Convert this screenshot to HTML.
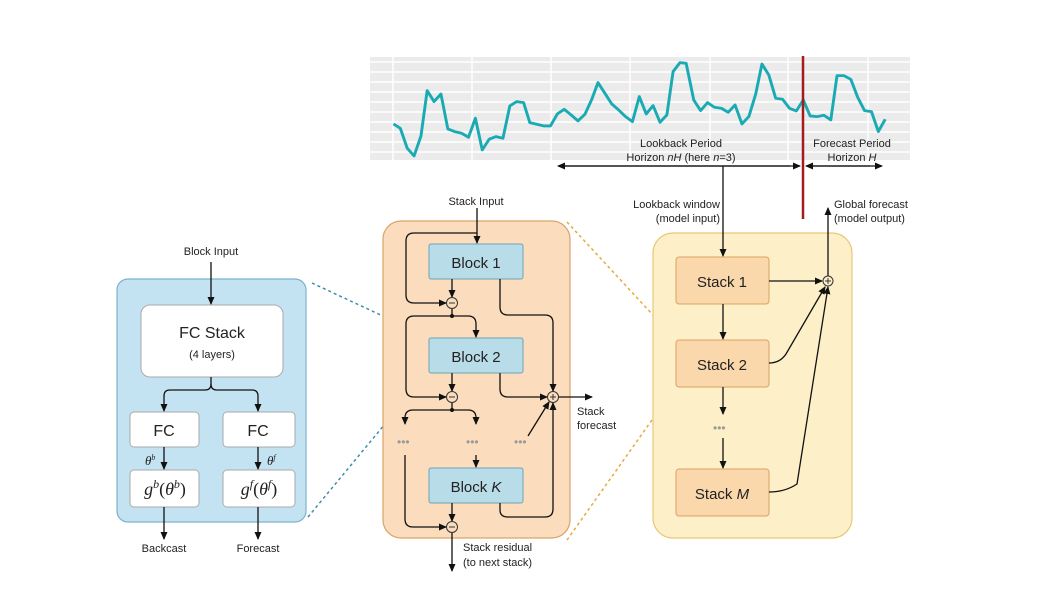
<!DOCTYPE html>
<html><head><meta charset="utf-8"><style>
html,body{margin:0;padding:0;background:#fff}
svg{display:block}
text{font-family:"Liberation Sans",sans-serif;fill:#222}
.s{font-size:11px}
.d{fill:#9a9a9a;font-size:12px}
</style></head><body>
<svg width="1062" height="596" viewBox="0 0 1062 596">
<defs>
<marker id="a" markerWidth="8" markerHeight="8" refX="7" refY="4" orient="auto" markerUnits="userSpaceOnUse"><path d="M0,0.5 L8,4 L0,7.5 Z" fill="#111"/></marker>
</defs>
<rect x="370" y="57" width="540" height="103" fill="#ebebeb"/>
<g stroke="#fff" stroke-width="1.5">
<line x1="370" y1="62" x2="910" y2="62"/><line x1="370" y1="72" x2="910" y2="72"/><line x1="370" y1="82" x2="910" y2="82"/><line x1="370" y1="92" x2="910" y2="92"/><line x1="370" y1="102" x2="910" y2="102"/><line x1="370" y1="112" x2="910" y2="112"/><line x1="370" y1="122" x2="910" y2="122"/><line x1="370" y1="132" x2="910" y2="132"/><line x1="370" y1="142" x2="910" y2="142"/><line x1="370" y1="152" x2="910" y2="152"/>
<line x1="393" y1="57" x2="393" y2="160"/><line x1="472" y1="57" x2="472" y2="160"/><line x1="551" y1="57" x2="551" y2="160"/><line x1="630" y1="57" x2="630" y2="160"/><line x1="710" y1="57" x2="710" y2="160"/><line x1="788" y1="57" x2="788" y2="160"/><line x1="868" y1="57" x2="868" y2="160"/>
</g>
<g transform="translate(370,50) scale(0.3444,0.333)">
<polyline fill="none" stroke="#1aaab4" stroke-width="8.5" stroke-linejoin="round" points="68,222 88,235 108,295 128,318 148,258 166,122 186,155 206,132 226,237 246,245 266,250 286,262 306,205 326,300 346,268 366,260 386,265 406,168 426,155 446,158 464,218 484,223 504,228 524,228 544,192 564,178 584,195 604,213 624,193 644,148 662,98 682,130 702,162 722,180 742,200 762,215 782,140 802,192 822,167 842,217 862,195 880,65 900,38 918,40 940,150 960,182 980,158 1000,172 1020,175 1040,187 1060,165 1080,222 1100,200 1120,132 1138,42 1158,75 1178,145 1198,148 1218,175 1238,183 1258,150 1278,198 1298,200 1318,196 1338,210 1356,77 1376,77 1396,88 1416,142 1436,182 1456,185 1476,245 1496,208"/>
</g>
<text class="s" x="681" y="147" text-anchor="middle">Lookback Period</text>
<text class="s" x="681" y="161" text-anchor="middle">Horizon <tspan font-style="italic">nH</tspan> (here <tspan font-style="italic">n</tspan>=3)</text>
<text class="s" x="852" y="147" text-anchor="middle">Forecast Period</text>
<text class="s" x="852" y="161" text-anchor="middle">Horizon <tspan font-style="italic">H</tspan></text>
<g stroke="#111" stroke-width="1.3" fill="none">
<line x1="565" y1="166" x2="800" y2="166" marker-end="url(#a)"/>
<line x1="790" y1="166" x2="558" y2="166" marker-end="url(#a)"/>
<line x1="810" y1="166" x2="882" y2="166" marker-end="url(#a)"/>
<line x1="870" y1="166" x2="806" y2="166" marker-end="url(#a)"/>
</g>
<line x1="803" y1="56" x2="803" y2="219" stroke="#a51c1c" stroke-width="2.5"/>

<g stroke-dasharray="3,3" stroke-width="1.5" fill="none">
<line x1="312" y1="283" x2="430" y2="338" stroke="#3d8fa8"/>
<line x1="308" y1="517" x2="428" y2="372" stroke="#3d8fa8"/>
<line x1="567" y1="222" x2="676" y2="340" stroke="#e7a93a"/>
<line x1="567" y1="540" x2="676" y2="386" stroke="#e7a93a"/>
</g>

<rect x="117" y="279" width="189" height="243" rx="11" fill="#c4e3f2" stroke="#7ab3cc" stroke-width="1.2"/>
<rect x="141" y="305" width="142" height="72" rx="9" fill="#fff" stroke="#aaa"/>
<text x="212" y="338" text-anchor="middle" style="font-size:16px">FC Stack</text>
<text x="212" y="358" text-anchor="middle" style="font-size:11px">(4 layers)</text>
<rect x="130" y="412" width="69" height="35" rx="4" fill="#fff" stroke="#aaa"/>
<rect x="223" y="412" width="72" height="35" rx="4" fill="#fff" stroke="#aaa"/>
<text x="164" y="436" text-anchor="middle" style="font-size:16px">FC</text>
<text x="258" y="436" text-anchor="middle" style="font-size:16px">FC</text>
<rect x="130" y="470" width="69" height="37" rx="4" fill="#fff" stroke="#aaa"/>
<rect x="223" y="470" width="72" height="37" rx="4" fill="#fff" stroke="#aaa"/>
<text x="165" y="495" text-anchor="middle" style="font-family:'Liberation Serif',serif;font-size:18px"><tspan font-style="italic">g</tspan><tspan font-style="italic" font-size="12" dy="-7">b</tspan><tspan dy="7">(</tspan><tspan font-style="italic">θ</tspan><tspan font-style="italic" font-size="12" dy="-7">b</tspan><tspan dy="7">)</tspan></text>
<text x="259" y="495" text-anchor="middle" style="font-family:'Liberation Serif',serif;font-size:18px"><tspan font-style="italic">g</tspan><tspan font-style="italic" font-size="12" dy="-7">f</tspan><tspan dy="7">(</tspan><tspan font-style="italic">θ</tspan><tspan font-style="italic" font-size="12" dy="-7">f</tspan><tspan dy="7">)</tspan></text>
<text x="145" y="465" style="font-family:'Liberation Serif',serif;font-size:13px;font-style:italic">θ<tspan font-size="8" dy="-5">b</tspan></text>
<text x="267" y="465" style="font-family:'Liberation Serif',serif;font-size:13px;font-style:italic">θ<tspan font-size="8" dy="-5">f</tspan></text>
<text class="s" x="211" y="255" text-anchor="middle">Block Input</text>
<text class="s" x="164" y="552" text-anchor="middle">Backcast</text>
<text class="s" x="258" y="552" text-anchor="middle">Forecast</text>
<g stroke="#111" stroke-width="1.3" fill="none">
<line x1="211" y1="262" x2="211" y2="304" marker-end="url(#a)"/>
<path d="M211,377 V384 Q211,390 205,390 H170 Q164,390 164,396 V411" marker-end="url(#a)"/>
<path d="M211,384 Q211,390 217,390 H252 Q258,390 258,396 V411" marker-end="url(#a)"/>
<line x1="164" y1="447" x2="164" y2="469" marker-end="url(#a)"/>
<line x1="258" y1="447" x2="258" y2="469" marker-end="url(#a)"/>
<line x1="164" y1="507" x2="164" y2="539" marker-end="url(#a)"/>
<line x1="258" y1="507" x2="258" y2="539" marker-end="url(#a)"/>
</g>

<rect x="383" y="221" width="187" height="317" rx="18" fill="#fbdcbd" stroke="#d9a46a" stroke-width="1.2"/>
<rect x="429" y="244" width="94" height="35" rx="2" fill="#b8dce8" stroke="#6ea3b8"/>
<rect x="429" y="338" width="94" height="35" rx="2" fill="#b8dce8" stroke="#6ea3b8"/>
<rect x="429" y="468" width="94" height="35" rx="2" fill="#b8dce8" stroke="#6ea3b8"/>
<text x="476" y="268" text-anchor="middle" style="font-size:15px">Block 1</text>
<text x="476" y="362" text-anchor="middle" style="font-size:15px">Block 2</text>
<text x="476" y="492" text-anchor="middle" style="font-size:15px">Block <tspan font-style="italic">K</tspan></text>
<text class="s" x="476" y="205" text-anchor="middle">Stack Input</text>
<text class="s" x="577" y="415">Stack</text>
<text class="s" x="577" y="429">forecast</text>
<text class="s" x="463" y="551">Stack residual</text>
<text class="s" x="463" y="566">(to next stack)</text>
<text class="d" x="397" y="446">•••</text><text class="d" x="466" y="446">•••</text><text class="d" x="514" y="446">•••</text>
<g stroke="#111" stroke-width="1.3" fill="none">
<line x1="477" y1="208" x2="477" y2="243" marker-end="url(#a)"/>
<path d="M477,233 H414 Q406,233 406,241 V295 Q406,303 414,303 H446" marker-end="url(#a)"/>
<line x1="452" y1="279" x2="452" y2="297" marker-end="url(#a)"/>
<path d="M500,279 V307 Q500,315 508,315 H545 Q553,315 553,323 V391" marker-end="url(#a)"/>
<path d="M452,308 V316 H468 Q476,316 476,324 V337" marker-end="url(#a)"/>
<path d="M452,316 H414 Q406,316 406,324 V389 Q406,397 414,397 H446" marker-end="url(#a)"/>
<line x1="452" y1="373" x2="452" y2="391" marker-end="url(#a)"/>
<path d="M500,373 V389 Q500,397 508,397 H547" marker-end="url(#a)"/>
<line x1="558" y1="397" x2="592" y2="397" marker-end="url(#a)"/>
<path d="M452,402 V410 H468 Q476,410 476,418 V424" marker-end="url(#a)"/>
<path d="M452,410 H413 Q405,410 405,418 V424" marker-end="url(#a)"/>
<line x1="476" y1="455" x2="476" y2="467" marker-end="url(#a)"/>
<path d="M405,455 V519 Q405,527 413,527 H446" marker-end="url(#a)"/>
<line x1="452" y1="503" x2="452" y2="521" marker-end="url(#a)"/>
<path d="M500,503 V510 Q500,517 508,517 H545 Q553,517 553,509 V403" marker-end="url(#a)"/>
<line x1="528" y1="436" x2="549" y2="402" marker-end="url(#a)"/>
<line x1="452" y1="532" x2="452" y2="571" marker-end="url(#a)"/>
</g>
<g fill="#fbdcbd" stroke="#333" stroke-width="1">
<circle cx="452" cy="303" r="5.5"/><circle cx="452" cy="397" r="5.5"/><circle cx="452" cy="527" r="5.5"/><circle cx="553" cy="397" r="5.5"/>
</g>
<g stroke="#333" stroke-width="1"><line x1="449" y1="303" x2="455" y2="303"/><line x1="449" y1="397" x2="455" y2="397"/><line x1="449" y1="527" x2="455" y2="527"/><line x1="550" y1="397" x2="556" y2="397"/><line x1="553" y1="394" x2="553" y2="400"/></g>
<g fill="#111"><circle cx="452" cy="316" r="2"/><circle cx="452" cy="410" r="2"/></g>

<rect x="653" y="233" width="199" height="305" rx="20" fill="#fdf0c9" stroke="#e8c877" stroke-width="1.2"/>
<rect x="676" y="257" width="93" height="47" rx="3" fill="#fad8ab" stroke="#dba262"/>
<rect x="676" y="340" width="93" height="47" rx="3" fill="#fad8ab" stroke="#dba262"/>
<rect x="676" y="469" width="93" height="47" rx="3" fill="#fad8ab" stroke="#dba262"/>
<text x="722" y="287" text-anchor="middle" style="font-size:15px">Stack 1</text>
<text x="722" y="370" text-anchor="middle" style="font-size:15px">Stack 2</text>
<text x="722" y="499" text-anchor="middle" style="font-size:15px">Stack <tspan font-style="italic">M</tspan></text>
<text class="d" x="713" y="432">•••</text>
<text class="s" x="720" y="208" text-anchor="end">Lookback window</text>
<text class="s" x="720" y="222" text-anchor="end">(model input)</text>
<text class="s" x="834" y="208">Global forecast</text>
<text class="s" x="834" y="222">(model output)</text>
<g stroke="#111" stroke-width="1.3" fill="none">
<line x1="723" y1="166" x2="723" y2="256" marker-end="url(#a)"/>
<line x1="723" y1="304" x2="723" y2="339" marker-end="url(#a)"/>
<line x1="723" y1="387" x2="723" y2="414" marker-end="url(#a)"/>
<line x1="723" y1="438" x2="723" y2="468" marker-end="url(#a)"/>
<line x1="769" y1="281" x2="822" y2="281" marker-end="url(#a)"/>
<path d="M769,363 Q780,363 786,354 L825,287" marker-end="url(#a)"/>
<path d="M769,492 Q785,492 797,484 L828,287" marker-end="url(#a)"/>
<line x1="828" y1="276" x2="828" y2="208" marker-end="url(#a)"/>
</g>
<circle cx="828" cy="281" r="5" fill="#fdf0c9" stroke="#333"/>
<g stroke="#333"><line x1="825" y1="281" x2="831" y2="281"/><line x1="828" y1="278" x2="828" y2="284"/></g>
</svg>
</body></html>
